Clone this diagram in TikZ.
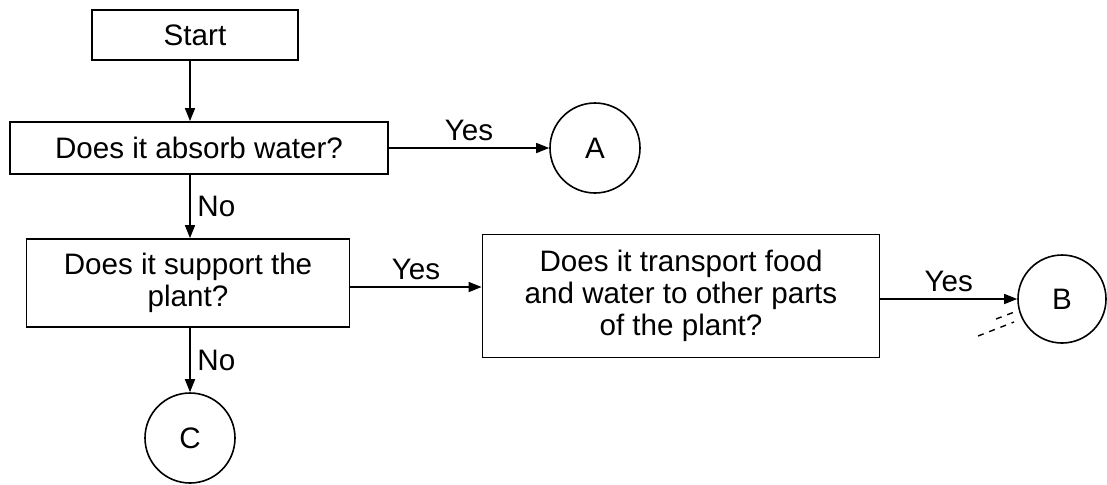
\documentclass[tikz,border=0pt]{standalone}
\usepackage{fontspec}
\setmainfont{Liberation Sans}
\usetikzlibrary{arrows.meta,positioning}

\begin{document}
\begin{tikzpicture}[
  x=0.5pt,y=-0.5pt,
  qbox/.style={draw,line width=0.9pt,align=center,inner sep=0pt,font=\fontsize{14.8pt}{16pt}\selectfont},
  endpt/.style={draw,circle,line width=0.8pt,inner sep=0pt,minimum size=45pt,font=\fontsize{14.8pt}{16pt}\selectfont},
  flow/.style={draw,line width=0.8pt,-{Triangle[length=6.5pt,width=5pt]},font=\fontsize{14.8pt}{16pt}\selectfont}
]
\useasboundingbox (0,0) rectangle (1107,484);
\node[qbox,minimum width=103pt,minimum height=25pt] (start) at (195,35) {Start};
\node[qbox,minimum width=189pt,minimum height=26pt] (absorb) at (199,148) {Does it absorb water?};
\node[endpt] (A) at (595,148) {A};
\node[qbox,minimum width=161.5pt,minimum height=44pt] (support) at (188,283) {Does it support the\\plant?};
\node[qbox,minimum width=198.5pt,minimum height=61.5pt] (transport) at (681,296) {Does it transport food\\and water to other parts\\of the plant?};
\node[endpt,minimum size=44pt] (B) at (1062,299) {B};
\node[endpt] (C) at (190,438) {C};
\draw[flow] (start.south -| C) -- (absorb.north -| C);
\draw[flow] (absorb.east) -- node[above]{Yes} (A.west);
\draw[flow] (absorb.south -| C) -- node[right]{No} (support.north -| C);
\draw[flow] (support.east |- 0,287) -- node[above]{Yes} (transport.west |- 0,287);
\draw[flow] (transport.east |- B) -- node[above]{Yes} (B.west);
\draw[flow] (support.south -| C) -- node[right]{No} (C.north);
% marks below the last arrow
\draw[line width=0.7pt,dashed] (978,336) -- (1014,322);
\draw[line width=0.7pt,dashed] (996,319) -- (1017,311);
\end{tikzpicture}
\end{document}
